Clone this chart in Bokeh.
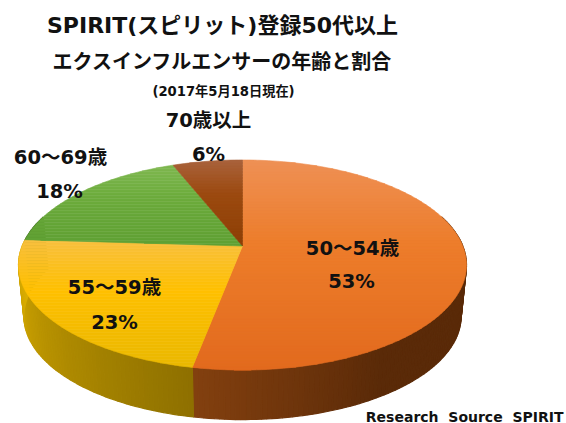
import math
from bokeh.plotting import figure
from bokeh.models import Range1d
from bokeh.core.properties import value
from bokeh.embed import file_html
from bokeh.resources import INLINE

# --- chart values ---
age_labels = ["50～54歳", "55～59歳", "60～69歳", "70歳以上"]
percents = [53, 23, 18, 6]
title_lines = ["SPIRIT(スピリット)登録50代以上", "エクスインフルエンサーの年齢と割合"]
subtitle = "(2017年5月18日現在)"
source = "Research\u00a0\u00a0Source\u00a0\u00a0SPIRIT"

# --- styling ---
top_light = ["#EE9055", "#F8C040", "#7FB850", "#A9623C"]
top_mid = ["#ED7D2B", "#FFC000", "#6CAB3C", "#9C4A10"]
top_dark = ["#E26A1E", "#EAB800", "#5FA033", "#8C3F05"]
wall_a = ["#83400F", "#DDB000", "#4F7F2A", "#703008"]
wall_b = ["#5A2A08", "#9A7A00", "#3F6A20", "#5A2A08"]
wall_c = ["#5E2C0A", "#8E7000", "#3F6A20", "#5A2A08"]

FONT = "DejaVu Sans, Noto Sans CJK JP"
CX, CY = 242.0, 245.5
A, C, K = 220.3, 101.6, 0.181
A2, C2, DY = 215.0, 100.0, 51.5


def rim(theta, a=A, c=C, dy=0.0):
    u, v = math.sin(theta), math.cos(theta)
    w = 1 + K * v
    return CX + a * u / w, CY + dy - c * v / w


def hex2rgb(h):
    return tuple(int(h[i:i + 2], 16) for i in (1, 3, 5))


def mix(h1, h2, t):
    t = max(0.0, min(1.0, t))
    a, b = hex2rgb(h1), hex2rgb(h2)
    return "#%02x%02x%02x" % tuple(round(a[i] + (b[i] - a[i]) * t) for i in range(3))


def clip_y(poly, lo, hi):
    def clip(pts, keep, cross):
        out = []
        for i, p in enumerate(pts):
            q = pts[(i + 1) % len(pts)]
            if keep(p):
                out.append(p)
            if keep(p) != keep(q):
                t = (cross - p[1]) / (q[1] - p[1])
                out.append((p[0] + t * (q[0] - p[0]), cross))
        return out
    r = clip(poly, lambda p: p[1] >= lo, lo)
    if r:
        r = clip(r, lambda p: p[1] <= hi, hi)
    return r


p = figure(width=566, height=423, x_range=Range1d(0, 566), y_range=Range1d(423, 0),
           output_backend="svg", toolbar_location=None, min_border=0,
           background_fill_color="white", border_fill_color="white")
p.axis.visible = False
p.grid.visible = False
p.outline_line_color = None

total = sum(percents)
edges = [0.0]
for v in percents:
    edges.append(edges[-1] + v / total * 2 * math.pi)

# walls (front part of each slice)
xs, ys, cols = [], [], []
for i in range(len(percents)):
    t0, t1 = edges[i], edges[i + 1]
    n = max(2, int((t1 - t0) / 0.02))
    for j in range(n):
        a0 = t0 + (t1 - t0) * j / n
        a1 = t0 + (t1 - t0) * (j + 1) / n
        if math.cos((a0 + a1) / 2) > 0.3:
            continue
        tp = (j + .5) / n
        if i == 0:
            s = (a0 + a1) / 2
            t = (s - edges[1] + 0.75) / 0.75
            col = mix(wall_b[0], wall_a[0], t)
        else:
            col = mix(wall_c[i], wall_a[i], tp)
        x0, y0 = rim(a0)
        x1, y1 = rim(a1)
        x2, y2 = rim(a1, A2, C2, DY)
        x3, y3 = rim(a0, A2, C2, DY)
        xs.append([x0, x1, x2, x3])
        ys.append([y0, y1, y2, y3])
        cols.append(col)
p.patches(xs, ys, fill_color=cols, line_color=cols, line_width=1.2)

# top face: vertical gradient per slice
xs, ys, cols = [], [], []
for i in range(len(percents)):
    t0, t1 = edges[i], edges[i + 1]
    n = max(8, int((t1 - t0) / 0.02))
    poly = [(CX, CY)] + [rim(t0 + (t1 - t0) * j / n) for j in range(n + 1)]
    ymin = min(q[1] for q in poly)
    ymax = max(q[1] for q in poly)
    y = ymin
    while y < ymax:
        b = clip_y(poly, y, y + 3)
        if len(b) >= 3:
            f = (y + 1.5 - ymin) / (ymax - ymin)
            col = mix(top_light[i], top_mid[i], f / 0.4) if f < 0.4 else mix(top_mid[i], top_dark[i], (f - 0.4) / 0.6)
            xs.append([q[0] for q in b])
            ys.append([q[1] for q in b])
            cols.append(col)
        y += 3
p.patches(xs, ys, fill_color=cols, line_color=cols, line_width=0.6)


def txt(x, y, s, size, align="center"):
    p.text([x], [y], text=[s], text_font=value(FONT), text_font_style="bold",
           text_font_size=size, text_color="#111111", text_align=align,
           text_baseline="middle")


txt(222, 25, title_lines[0], "22px")
txt(222, 61, title_lines[1], "20px")
txt(223, 91, subtitle, "13.2px")
txt(208, 120, age_labels[3], "19.5px")
txt(208, 154, f"{percents[3]}%", "19.5px")
txt(60, 157, age_labels[2], "19.5px")
txt(59, 191, f"{percents[2]}%", "19.5px")
txt(114, 287, age_labels[1], "19.5px")
txt(114, 322, f"{percents[1]}%", "19.5px")
txt(352, 248, age_labels[0], "19.5px")
txt(351, 281, f"{percents[0]}%", "19.5px")
txt(563, 416, source, "14px", "right")

open("out.html", "w").write(file_html(p, INLINE))
